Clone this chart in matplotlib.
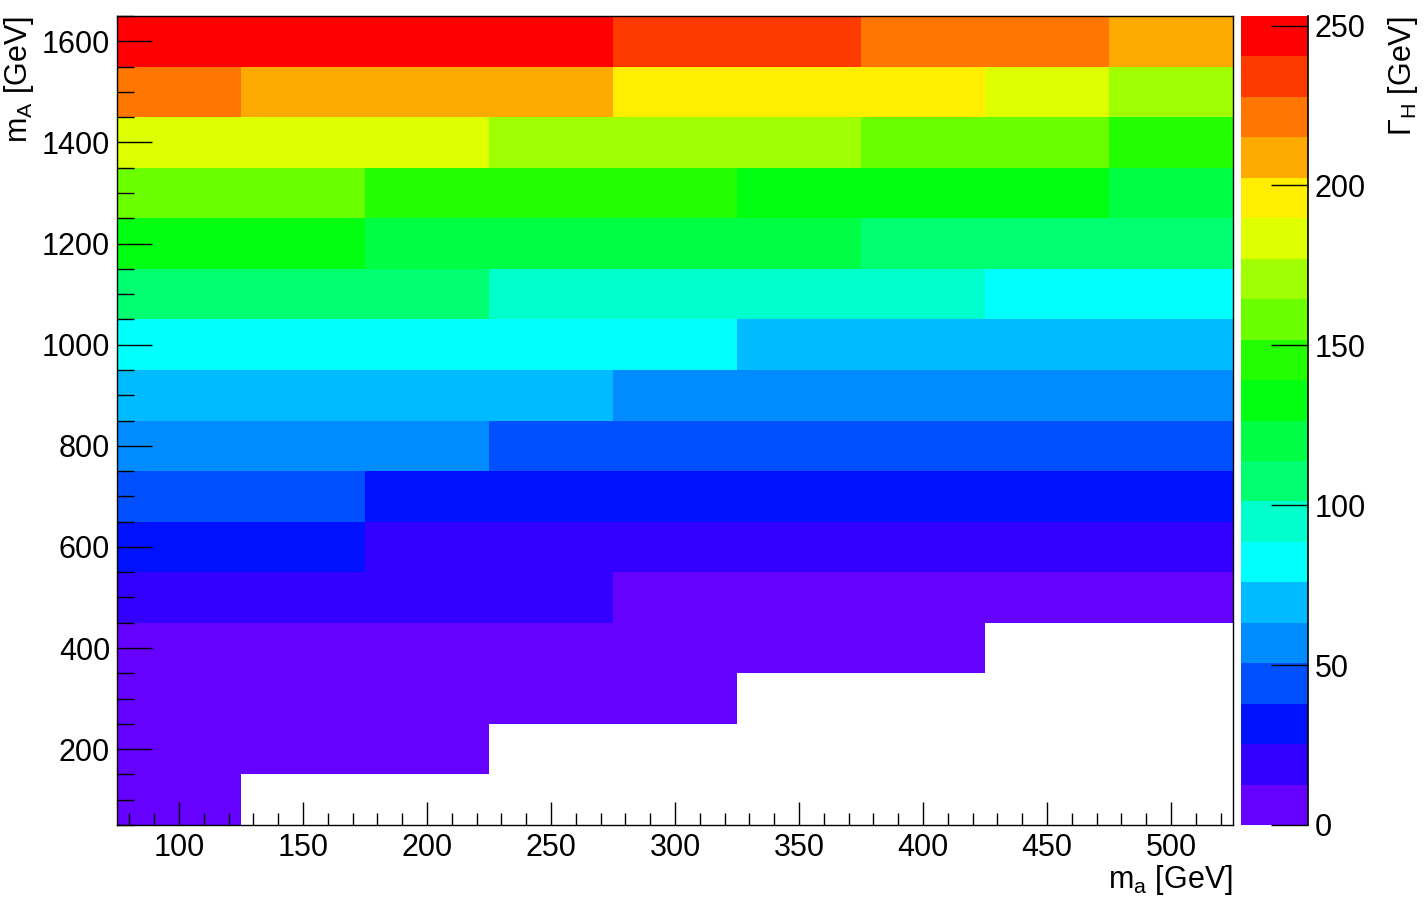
import numpy as np
import matplotlib
matplotlib.use("Agg")
import matplotlib.pyplot as plt
from matplotlib.colors import ListedColormap, BoundaryNorm
from matplotlib.ticker import MultipleLocator

plt.rcParams["font.family"] = ["Liberation Sans", "DejaVu Sans"]
plt.rcParams["mathtext.fontset"] = "custom"
plt.rcParams["mathtext.rm"] = "Liberation Sans"
plt.rcParams["mathtext.it"] = "Liberation Sans"

# bin centres
m_a = [100, 150, 200, 250, 300, 350, 400, 450, 500]
m_A = [100, 200, 300, 400, 500, 600, 700, 800, 900, 1000,
       1100, 1200, 1300, 1400, 1500, 1600]

nan = np.nan
# Gamma_H [GeV], one list per m_A row (bottom to top), columns follow m_a
gamma_100 = [6, nan, nan, nan, nan, nan, nan, nan, nan]
gamma_200 = [7, 6, 6, nan, nan, nan, nan, nan, nan]
gamma_300 = [8, 7, 7, 6, 6, nan, nan, nan, nan]
gamma_400 = [10, 9, 9, 8, 8, 7, 7, nan, nan]
gamma_500 = [20, 19, 18, 17, 12, 11, 10, 9, 8]
gamma_600 = [31, 29, 24, 23, 22, 21, 20, 19, 18]
gamma_700 = [44, 41, 36, 35, 34, 33, 32, 31, 30]
gamma_800 = [57, 55, 53, 49, 47, 46, 45, 44, 43]
gamma_900 = [72, 70, 68, 66, 61, 60, 58, 57, 56]
gamma_1000 = [86, 84, 82, 80, 78, 74, 72, 70, 68]
gamma_1100 = [110, 107, 104, 99, 97, 95, 93, 86, 84]
gamma_1200 = [136, 133, 124, 122, 120, 117, 112, 110, 108]
gamma_1300 = [160, 157, 148, 146, 144, 136, 134, 132, 125]
gamma_1400 = [186, 184, 182, 174, 172, 170, 162, 160, 150]
gamma_1500 = [222, 212, 210, 208, 200, 198, 196, 186, 174]
gamma_1600 = [250, 248, 246, 244, 236, 232, 224, 220, 210]

z_max = 253
n_levels = 20
palette = ["#6600ff", "#3300ff", "#0011ff", "#0050ff", "#008cff",
           "#00bbff", "#00ffff", "#00ffcc", "#00ff70", "#00ff44",
           "#00ff11", "#22ff00", "#6cff00", "#a0ff00", "#ddff00",
           "#ffee00", "#ffaa00", "#ff7700", "#ff3a00", "#ff0000"]

z = np.ma.masked_invalid(np.array([
    gamma_100, gamma_200, gamma_300, gamma_400, gamma_500, gamma_600,
    gamma_700, gamma_800, gamma_900, gamma_1000, gamma_1100, gamma_1200,
    gamma_1300, gamma_1400, gamma_1500, gamma_1600], dtype=float))

x_edges = np.concatenate([[m_a[0] - 25], np.array(m_a) + 25])
y_edges = np.concatenate([[m_A[0] - 50], np.array(m_A) + 50])

cmap = ListedColormap(palette)
levels = np.linspace(0, z_max, n_levels + 1)
norm = BoundaryNorm(levels, cmap.N)

fig = plt.figure(figsize=(14.26, 9.0), dpi=100)
ax = fig.add_axes([117 / 1426, 75 / 900, 1116 / 1426, 809 / 900])
cax = fig.add_axes([1241 / 1426, 75 / 900, 67 / 1426, 809 / 900])

mesh = ax.pcolormesh(x_edges, y_edges, z, cmap=cmap, norm=norm)
ax.set_xlim(x_edges[0], x_edges[-1])
ax.set_ylim(y_edges[0], y_edges[-1])

ax.xaxis.set_major_locator(MultipleLocator(50))
ax.xaxis.set_minor_locator(MultipleLocator(10))
ax.yaxis.set_major_locator(MultipleLocator(200))
ax.yaxis.set_minor_locator(MultipleLocator(50))
ax.tick_params(axis="x", which="major", direction="in", length=16.5, width=1, labelsize=22, pad=6)
ax.tick_params(axis="x", which="minor", direction="in", length=8.5, width=1)
ax.tick_params(axis="y", which="major", direction="in", length=25, width=1, labelsize=22, pad=5)
ax.tick_params(axis="y", which="minor", direction="in", length=12, width=1)
for s in ax.spines.values():
    s.set_linewidth(1)

ax.set_xlabel(r"$\mathrm{m_{a}}$ [GeV]", fontsize=22, loc="right", labelpad=0)
ax.set_ylabel(r"$\mathrm{m_{A}}$ [GeV]", fontsize=22, loc="top")
ax.yaxis.set_label_coords(-0.0725, 1.0)

cb = fig.colorbar(mesh, cax=cax, ticks=[0, 50, 100, 150, 200, 250])
cb.outline.set_visible(False)
cax.plot([1, 1], [0, 1], transform=cax.transAxes, color="black", lw=1.2, clip_on=False)
cax.tick_params(axis="y", which="major", direction="in", length=27, width=1,
                labelsize=22, pad=5, right=True, left=False)
cax.minorticks_off()
cb.set_label(r"$\mathrm{\Gamma_{H}}$ [GeV]", fontsize=22, loc="top", labelpad=14)

fig.savefig("out.png", dpi=100)
